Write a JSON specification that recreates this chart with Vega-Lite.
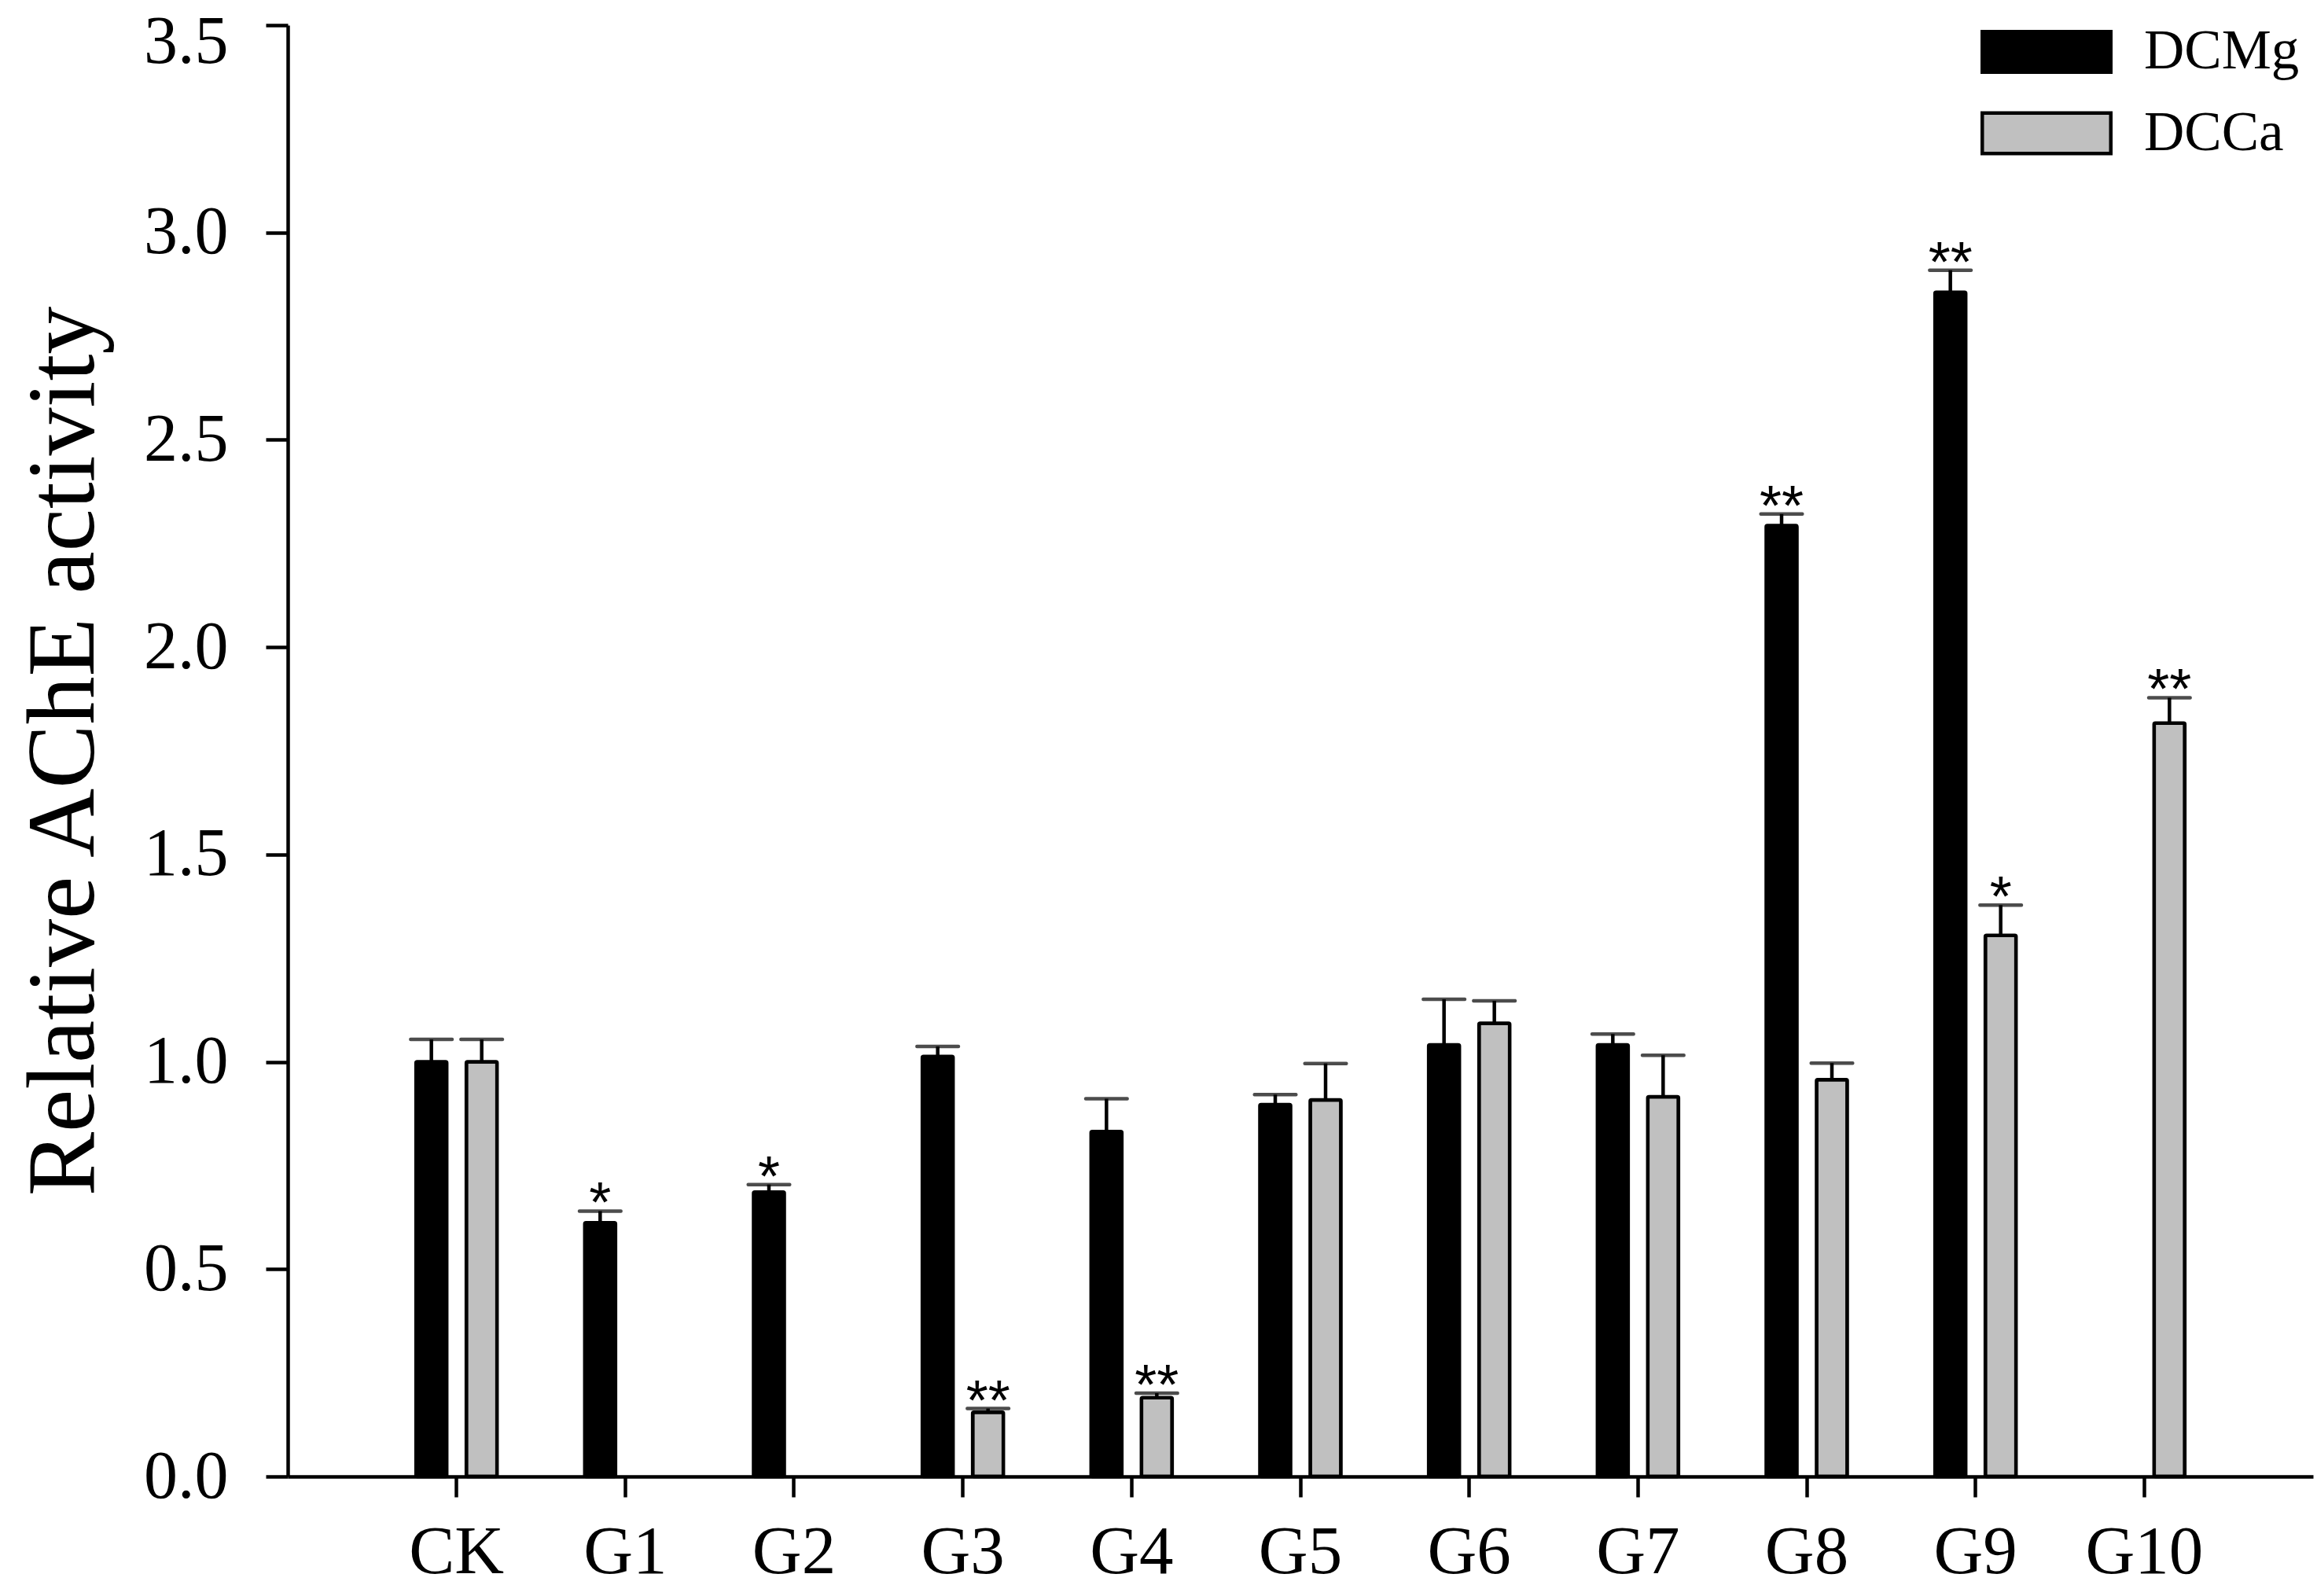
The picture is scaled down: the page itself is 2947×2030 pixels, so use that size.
{
  "$schema": "https://vega.github.io/schema/vega-lite/v6.json",
  "autosize": {"type": "none"},
  "padding": {"left": 366, "top": 32, "right": 5, "bottom": 152},
  "width": 2576,
  "height": 1846,
  "background": "white",
  "config": {
    "view": {"stroke": null},
    "font": "Liberation Serif",
    "axis": {
      "domainColor": "black",
      "domainWidth": 4.5,
      "tickColor": "black",
      "tickWidth": 4.5,
      "labelColor": "black",
      "titleColor": "black",
      "labelFont": "Liberation Serif",
      "titleFont": "Liberation Serif",
      "grid": false
    },
    "legend": {
      "labelFont": "Liberation Serif",
      "labelFontSize": 71,
      "labelColor": "black",
      "labelLimit": 1000,
      "clipHeight": 60,
      "rowPadding": 32.5,
      "labelOffset": 40,
      "padding": 0,
      "symbolStrokeColor": "black",
      "symbolStrokeWidth": 4.5,
      "symbolSize": 26732,
      "symbolType": "M-1,-0.315L1,-0.315L1,0.315L-1,0.315Z"
    }
  },
  "data": {
    "values": [
      {"group": "CK", "series": "DCMg", "value": 1.0, "cap": 1.054, "sig": ""},
      {"group": "CK", "series": "DCCa", "value": 1.0, "cap": 1.054, "sig": ""},
      {"group": "G1", "series": "DCMg", "value": 0.612, "cap": 0.640, "sig": "*"},
      {"group": "G2", "series": "DCMg", "value": 0.686, "cap": 0.704, "sig": "*"},
      {"group": "G3", "series": "DCMg", "value": 1.013, "cap": 1.037, "sig": ""},
      {"group": "G3", "series": "DCCa", "value": 0.155, "cap": 0.164, "sig": "**"},
      {"group": "G4", "series": "DCMg", "value": 0.832, "cap": 0.911, "sig": ""},
      {"group": "G4", "series": "DCCa", "value": 0.190, "cap": 0.201, "sig": "**"},
      {"group": "G5", "series": "DCMg", "value": 0.897, "cap": 0.921, "sig": ""},
      {"group": "G5", "series": "DCCa", "value": 0.908, "cap": 0.996, "sig": ""},
      {"group": "G6", "series": "DCMg", "value": 1.041, "cap": 1.151, "sig": ""},
      {"group": "G6", "series": "DCCa", "value": 1.093, "cap": 1.147, "sig": ""},
      {"group": "G7", "series": "DCMg", "value": 1.041, "cap": 1.067, "sig": ""},
      {"group": "G7", "series": "DCCa", "value": 0.916, "cap": 1.016, "sig": ""},
      {"group": "G8", "series": "DCMg", "value": 2.293, "cap": 2.321, "sig": "**"},
      {"group": "G8", "series": "DCCa", "value": 0.957, "cap": 0.997, "sig": ""},
      {"group": "G9", "series": "DCMg", "value": 2.856, "cap": 2.909, "sig": "**"},
      {"group": "G9", "series": "DCCa", "value": 1.305, "cap": 1.378, "sig": "*"},
      {"group": "G10", "series": "DCCa", "value": 1.817, "cap": 1.878, "sig": "**"}
    ]
  },
  "encoding": {
    "x": {
      "field": "group",
      "type": "nominal",
      "sort": ["CK", "G1", "G2", "G3", "G4", "G5", "G6", "G7", "G8", "G9", "G10"],
      "scale": {"paddingInner": 0.4, "paddingOuter": 0.7},
      "axis": {
        "title": null,
        "labelAngle": 0,
        "labelFontSize": 87,
        "tickSize": 26,
        "labelPadding": 96,
        "labelBaseline": "alphabetic"
      }
    },
    "xOffset": {
      "field": "series",
      "type": "nominal",
      "sort": ["DCMg", "DCCa"],
      "scale": {"paddingInner": 0.39, "paddingOuter": 0.20125}
    }
  },
  "layer": [
    {
      "mark": {"type": "bar", "stroke": "black", "strokeWidth": 4.5, "cornerRadius": 1.5},
      "encoding": {
        "y": {
          "field": "value",
          "type": "quantitative",
          "scale": {"domain": [0, 3.5], "nice": false},
          "axis": {
            "values": [0, 0.5, 1, 1.5, 2, 2.5, 3, 3.5],
            "format": ".1f",
            "labelFontSize": 86,
            "labelOffset": {"condition": {"test": "datum.value >= 3.5", "value": 21}, "value": 0},
            "tickSize": 28,
            "labelPadding": 48,
            "title": "Relative AChE activity",
            "titleFontSize": 122,
            "titleFontWeight": "normal",
            "titleAngle": -90,
            "titleX": -248,
            "titleY": 923,
            "titleAlign": "center",
            "titleBaseline": "alphabetic"
          }
        },
        "color": {
          "field": "series",
          "type": "nominal",
          "sort": ["DCMg", "DCCa"],
          "scale": {"domain": ["DCMg", "DCCa"], "range": ["#000000", "#c0c0c0"]},
          "legend": {
            "title": null,
            "orient": "none",
            "legendX": 2153,
            "legendY": 4
          }
        }
      }
    },
    {
      "mark": {"type": "rule", "color": "black", "strokeWidth": 4.5},
      "encoding": {
        "y": {"field": "value", "type": "quantitative"},
        "y2": {"field": "cap"}
      }
    },
    {
      "mark": {"type": "tick", "color": "black", "size": 57, "thickness": 4.5, "cornerRadius": 2},
      "encoding": {
        "y": {"field": "cap", "type": "quantitative"}
      }
    },
    {
      "mark": {"type": "text", "font": "Liberation Sans", "fontSize": 72, "color": "black", "baseline": "alphabetic", "dy": 14},
      "encoding": {
        "y": {"field": "cap", "type": "quantitative"},
        "text": {"field": "sig"}
      }
    }
  ]
}
